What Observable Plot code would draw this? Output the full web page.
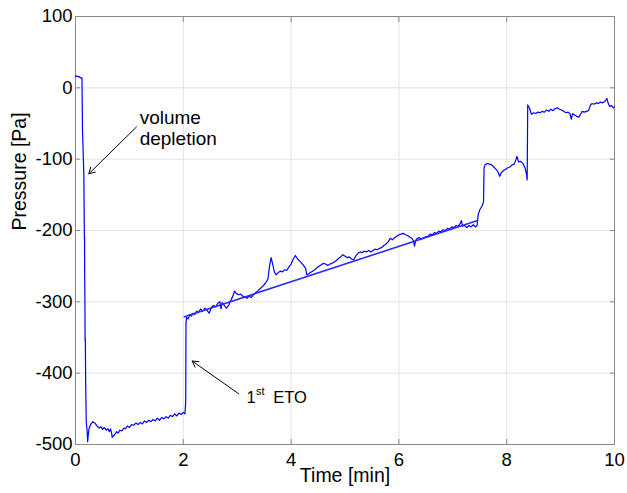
<!DOCTYPE html>
<html>
<head>
<meta charset="utf-8">
<script src="https://cdn.jsdelivr.net/npm/d3@7"></script>
<script src="https://cdn.jsdelivr.net/npm/@observablehq/plot@0.6"></script>
<style>
  html, body { margin: 0; padding: 0; background: #fff; }
  #chart svg { display: block; }
</style>
</head>
<body>
<div id="chart"></div>
<script>
// Pressure trace (time in minutes, pressure in Pa)
const timeMin = [
  0.00, 0.02, 0.05, 0.08, 0.09, 0.12, 0.13, 0.155, 0.16, 0.165, 0.168, 0.17, 0.175, 0.178, 0.182, 0.19, 0.20, 0.215, 0.225, 0.235,
  0.25, 0.28, 0.32, 0.36, 0.40, 0.44, 0.47, 0.50, 0.53, 0.57, 0.60, 0.63, 0.65, 0.67, 0.68, 0.70, 0.73, 0.76, 0.79, 0.82,
  0.86, 0.90, 0.93, 0.96, 1.00, 1.04, 1.08, 1.12, 1.16, 1.20, 1.24, 1.28, 1.32, 1.36, 1.40, 1.44, 1.48, 1.52, 1.56, 1.60,
  1.64, 1.68, 1.72, 1.76, 1.80, 1.84, 1.88, 1.92, 1.96, 2.00, 2.03, 2.045, 2.05, 2.06, 2.09, 2.12, 2.15, 2.18, 2.21, 2.25,
  2.28, 2.32, 2.36, 2.40, 2.44, 2.48, 2.52, 2.56, 2.60, 2.64, 2.68, 2.70, 2.72, 2.76, 2.80, 2.84, 2.88, 2.92, 2.95, 2.98,
  3.02, 3.06, 3.10, 3.14, 3.18, 3.22, 3.26, 3.30, 3.34, 3.38, 3.42, 3.46, 3.50, 3.54, 3.57, 3.60, 3.63, 3.66, 3.69, 3.72,
  3.76, 3.80, 3.84, 3.88, 3.92, 3.96, 4.00, 4.04, 4.08, 4.12, 4.16, 4.20, 4.24, 4.27, 4.29, 4.32, 4.36, 4.40, 4.44, 4.48,
  4.52, 4.56, 4.60, 4.64, 4.68, 4.72, 4.76, 4.80, 4.84, 4.88, 4.92, 4.96, 5.00, 5.04, 5.08, 5.12, 5.16, 5.20, 5.24, 5.28,
  5.32, 5.36, 5.40, 5.44, 5.48, 5.52, 5.56, 5.60, 5.64, 5.68, 5.72, 5.76, 5.80, 5.84, 5.88, 5.92, 5.96, 6.00, 6.04, 6.08,
  6.12, 6.16, 6.20, 6.24, 6.27, 6.29, 6.31, 6.34, 6.38, 6.42, 6.46, 6.50, 6.54, 6.58, 6.62, 6.66, 6.70, 6.74, 6.78, 6.82,
  6.86, 6.90, 6.94, 6.98, 7.02, 7.06, 7.10, 7.14, 7.16, 7.18, 7.22, 7.26, 7.30, 7.34, 7.38, 7.42, 7.45, 7.47, 7.50, 7.54,
  7.57, 7.58, 7.60, 7.64, 7.68, 7.72, 7.76, 7.80, 7.84, 7.87, 7.90, 7.94, 7.98, 8.02, 8.06, 8.10, 8.14, 8.17, 8.19, 8.22,
  8.26, 8.30, 8.34, 8.37, 8.38, 8.39, 8.42, 8.46, 8.50, 8.54, 8.58, 8.62, 8.66, 8.70, 8.74, 8.78, 8.82, 8.86, 8.90, 8.94,
  8.98, 9.02, 9.06, 9.10, 9.14, 9.17, 9.20, 9.22, 9.26, 9.30, 9.34, 9.37, 9.40, 9.44, 9.48, 9.52, 9.55, 9.58, 9.62, 9.66,
  9.70, 9.74, 9.78, 9.82, 9.86, 9.88, 9.91, 9.95, 9.98, 10.00
];
const pressurePa = [
  17, 16, 16, 15, 14, 14, -60, -122, -170, -212, -208, -262, -300, -355, -352, -420, -470, -480, -496, -488,
  -478, -472, -468, -470, -474, -477, -475, -479, -476, -480, -478, -482, -478, -484, -490, -488, -486, -482, -484, -480,
  -481, -477, -478, -474, -476, -472, -473, -470, -472, -469, -471, -467, -469, -466, -468, -465, -467, -463, -466, -462,
  -464, -461, -463, -459, -461, -457, -460, -456, -458, -455, -457, -440, -330, -322, -324, -318, -320, -316, -318, -313,
  -315, -310, -313, -309, -312, -316, -308, -305, -307, -302, -300, -310, -301, -305, -309, -305, -298, -292, -285, -288,
  -290, -289, -292, -293, -295, -292, -294, -290, -287, -285, -282, -279, -276, -272, -268, -250, -238, -248, -258, -262,
  -259, -257, -258, -255, -256, -251, -247, -240, -235, -240, -243, -246, -250, -253, -262, -261, -259, -257, -255, -252,
  -250, -248, -246, -247, -249, -247, -246, -244, -242, -239, -237, -234, -236, -238, -237, -240, -241, -236, -232, -230,
  -231, -229, -230, -228, -230, -228, -226, -227, -225, -224, -221, -219, -216, -211, -213, -210, -208, -206, -205, -204,
  -206, -207, -209, -211, -214, -222, -214, -211, -210, -212, -210, -209, -208, -205, -206, -203, -204, -201, -202, -199,
  -200, -197, -198, -195, -196, -193, -194, -190, -186, -194, -193, -196, -193, -195, -192, -195, -193, -178, -171, -166,
  -160, -112, -108, -106, -107, -108, -111, -114, -118, -124, -119, -116, -114, -112, -111, -108, -107, -101, -96, -104,
  -103, -106, -112, -122, -129, -24, -28, -37, -35, -36, -34, -35, -33, -34, -31, -33, -30, -32, -29, -28,
  -30, -31, -33, -35, -34, -36, -44, -36, -38, -40, -41, -37, -33, -34, -33, -32, -25, -22, -23, -21,
  -22, -20, -21, -19, -15, -21, -26, -25, -28, -27
];

// Linear fit over the first ETO interval
const fitTime = [2.02, 7.46];
const fitPressure = [-321, -186];

// Axis ticks
const xTicks = [0, 2, 4, 6, 8, 10];
const yTicks = [-500, -400, -300, -200, -100, 0, 100];

// Annotations: label anchors and arrows (tail -> head)
const depletionLabel = [{t: 1.19, p: -31, text: "volume\ndepletion"}];
const depletionArrow = [{t1: 1.13, p1: -55, t2: 0.247, p2: -120.5}];
const etoLabel = [{t: 3.172, p: -435}];
const etoArrow = [{t1: 3.03, p1: -429, t2: 2.165, p2: -383}];

const trace = timeMin.map((t, i) => ({t, p: pressurePa[i]}));
const fit = fitTime.map((t, i) => ({t, p: fitPressure[i]}));

const font = "Liberation Sans, Arial, Helvetica, sans-serif";
const gray = "#8a8a8a";

const chart = Plot.plot({
  width: 627,
  height: 493,
  marginLeft: 75,
  marginRight: 13,
  marginTop: 16,
  marginBottom: 49,
  style: {fontFamily: font, background: "#fff", color: "#000"},
  x: {domain: [0, 10], ticks: xTicks},
  y: {domain: [-500, 100], ticks: yTicks},
  marks: [
    Plot.gridX(xTicks, {stroke: "#e3e3e3", strokeOpacity: 1}),
    Plot.gridY(yTicks, {stroke: "#e3e3e3", strokeOpacity: 1}),
    Plot.frame({stroke: gray}),
    Plot.axisX(xTicks, {anchor: "bottom", tickSize: -5, tickPadding: 13, stroke: gray, fill: "#000", fontSize: 18.5, label: null}),
    Plot.axisX(xTicks, {anchor: "top", tickSize: -5, stroke: gray, tickFormat: () => "", label: null}),
    Plot.axisY(yTicks, {anchor: "left", tickSize: -5, tickPadding: 8, stroke: gray, fill: "#000", fontSize: 18.5, tickFormat: d => String(d), label: null}),
    Plot.axisY(yTicks, {anchor: "right", tickSize: -5, stroke: gray, tickFormat: () => "", label: null}),
    Plot.line(trace, {x: "t", y: "p", stroke: "#0000ff", strokeWidth: 1.2}),
    Plot.line(fit, {x: "t", y: "p", stroke: "#2a2aff", strokeWidth: 1.6}),
    Plot.arrow(depletionArrow, {x1: "t1", y1: "p1", x2: "t2", y2: "p2", stroke: "#000", strokeWidth: 1, headLength: 10}),
    Plot.arrow(etoArrow, {x1: "t1", y1: "p1", x2: "t2", y2: "p2", stroke: "#000", strokeWidth: 1, headLength: 10}),
    Plot.text(depletionLabel, {x: "t", y: "p", text: "text", textAnchor: "start", lineAnchor: "top", lineHeight: 1.07, fontSize: 19, fill: "#000"}),
    Plot.text(etoLabel, {x: "t", y: "p", text: () => "1", textAnchor: "start", fontSize: 16.5, fill: "#000"}),
    Plot.text(etoLabel, {x: "t", y: "p", text: () => "st", textAnchor: "start", dx: 9.5, dy: -7, fontSize: 11, fill: "#000"}),
    Plot.text(etoLabel, {x: "t", y: "p", text: () => "ETO", textAnchor: "start", dx: 26.7, fontSize: 16.5, fill: "#000"}),
    Plot.text(["Time [min]"], {frameAnchor: "bottom", dy: 37.5, fontSize: 19.5, fill: "#000"}),
    Plot.text(["Pressure [Pa]"], {frameAnchor: "left", dx: -56, rotate: -90, fontSize: 19.5, fill: "#000"})
  ]
});

document.getElementById("chart").appendChild(chart);
</script>
</body>
</html>
